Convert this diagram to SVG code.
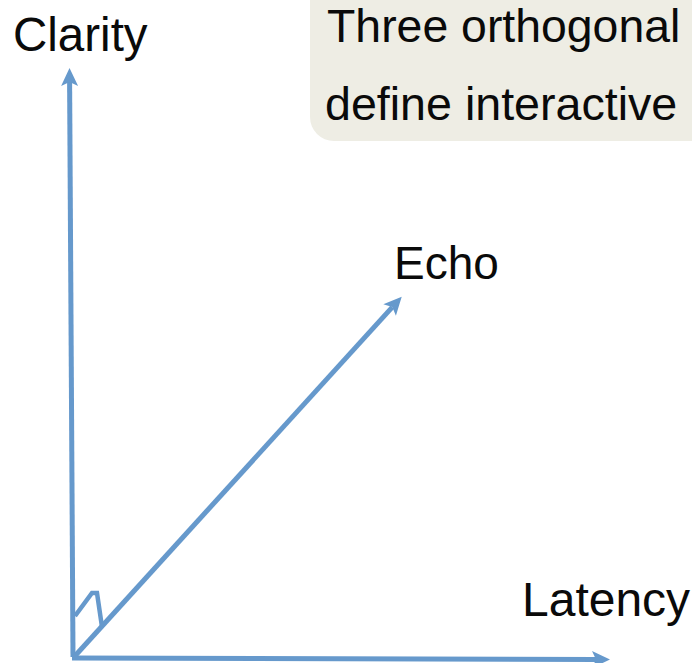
<svg xmlns="http://www.w3.org/2000/svg" width="692" height="663" viewBox="0 0 692 663">
  <defs>
    <style>
      .axis { fill: none; stroke: #6699CC; stroke-width: 5; stroke-linecap: butt; }
      .tick { fill: none; stroke: #6699CC; stroke-width: 4.5; stroke-linejoin: miter; }
      .lbl { font-family: "Liberation Sans", Arial, sans-serif; fill: #0A0A0A; }
      .note { fill: #EEEDE4; }
    </style>
    <marker id="head" viewBox="-2 -10 24 20" markerWidth="24" markerHeight="20" refX="4" refY="0" orient="auto" markerUnits="userSpaceOnUse">
      <path d="M0,-8.5 L18,0 L0,8.5 L4,0 Z" fill="#6699CC"/>
    </marker>
  </defs>

  <!-- caption box -->
  <g id="note">
    <rect class="note" x="310" y="-40" width="420" height="181" rx="24" ry="24"/>
    <text class="lbl" x="327" y="42" font-size="46.4">Three orthogonal</text>
    <text class="lbl" x="325" y="120" font-size="46.6">define interactive</text>
  </g>

  <!-- axes -->
  <g id="connectors">
    <line class="axis" x1="73" y1="657" x2="69.6" y2="82" marker-end="url(#head)"/>
    <line class="axis" x1="72" y1="658" x2="596" y2="659.5" marker-end="url(#head)"/>
    <line class="axis" x1="74" y1="657" x2="392.3" y2="307.1" marker-end="url(#head)"/>
    <polyline class="tick" points="75,616 92,593 97,593 102,627"/>
  </g>

  <!-- axis labels -->
  <g id="clarity">
    <text class="lbl" x="13" y="51" font-size="47.5">Clarity</text>
  </g>
  <g id="echo">
    <text class="lbl" x="394" y="279" font-size="46">Echo</text>
  </g>
  <g id="latency">
    <text class="lbl" x="522" y="616" font-size="48">Latency</text>
  </g>
</svg>
